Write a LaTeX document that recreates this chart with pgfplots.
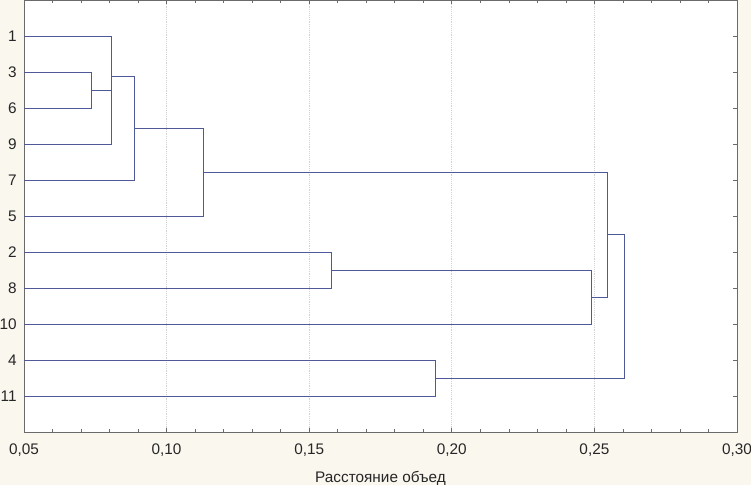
\documentclass[border=0pt]{standalone}
\usepackage{fontspec}
\setmainfont{Liberation Sans}
\usepackage{pgfplots}
\pgfplotsset{compat=1.18}
\definecolor{bgbeige}{HTML}{FAF7EE}
\definecolor{linkblue}{HTML}{4F5898}
\definecolor{framegray}{HTML}{6A6A6A}

\begin{document}
\begin{tikzpicture}[link/.style={linkblue, line width=0.6pt, solid, mark=none}]
% page background
\fill[bgbeige] (-18pt,-39.75pt) rectangle (545.25pt,324pt);

\begin{axis}[
  at={(0,0)}, anchor=south west,
  scale only axis,
  width=534.75pt, height=324pt,
  xmin=0.05, xmax=0.30,
  ymin=0, ymax=12,
  y dir=reverse,
  axis background/.style={fill=white},
  axis line style={framegray, line width=0.6pt},
  tick align=inside,
  tick style={framegray, line width=0.5pt},
  major tick length=3pt,
  minor tick length=2pt,
  xtick={0.05,0.10,0.15,0.20,0.25,0.30},
  xticklabels={{0,05},{0,10},{0,15},{0,20},{0,25},{0,30}},
  minor x tick num=4,
  ytick={1,2,3,4,5,6,7,8,9,10,11},
  yticklabels={1,3,6,9,7,5,2,8,10,4,11},
  xmajorgrids,
  major grid style={densely dotted, black!18, line width=0.5pt},
  tick label style={font=\fontsize{11.5}{13}\selectfont, text=black!85},
  xticklabel style={yshift=-5pt},
  yticklabel style={xshift=-2pt},
  xlabel={Расстояние объед},
  xlabel style={font=\fontsize{11.5}{13}\selectfont, text=black!85,
    at={(axis description cs:0.5,0)}, anchor=center, yshift=-34.5pt},
]
% (3,6)
\addplot[link] coordinates {(0.05,2) (0.0735,2) (0.0735,3) (0.05,3)};
% ((3,6),9)
\addplot[link] coordinates {(0.0735,2.5) (0.0805,2.5) (0.0805,4) (0.05,4)};
% (1, ...)
\addplot[link] coordinates {(0.05,1) (0.0805,1) (0.0805,3.25)};
% + 7
\addplot[link] coordinates {(0.0805,2.125) (0.0886,2.125) (0.0886,5) (0.05,5)};
% + 5
\addplot[link] coordinates {(0.0886,3.5625) (0.1128,3.5625) (0.1128,6) (0.05,6)};
% (2,8)
\addplot[link] coordinates {(0.05,7) (0.1577,7) (0.1577,8) (0.05,8)};
% + 10
\addplot[link] coordinates {(0.1577,7.5) (0.2488,7.5) (0.2488,9) (0.05,9)};
% upper + lower
\addplot[link] coordinates {(0.1128,4.78125) (0.2544,4.78125) (0.2544,8.25) (0.2488,8.25)};
% (4,11)
\addplot[link] coordinates {(0.05,10) (0.1941,10) (0.1941,11) (0.05,11)};
% final
\addplot[link] coordinates {(0.2544,6.5156) (0.2604,6.5156) (0.2604,10.5) (0.1941,10.5)};
\end{axis}

\pgfresetboundingbox
\path (-18pt,-39.75pt) rectangle (545.25pt,324pt);
\end{tikzpicture}
\end{document}
